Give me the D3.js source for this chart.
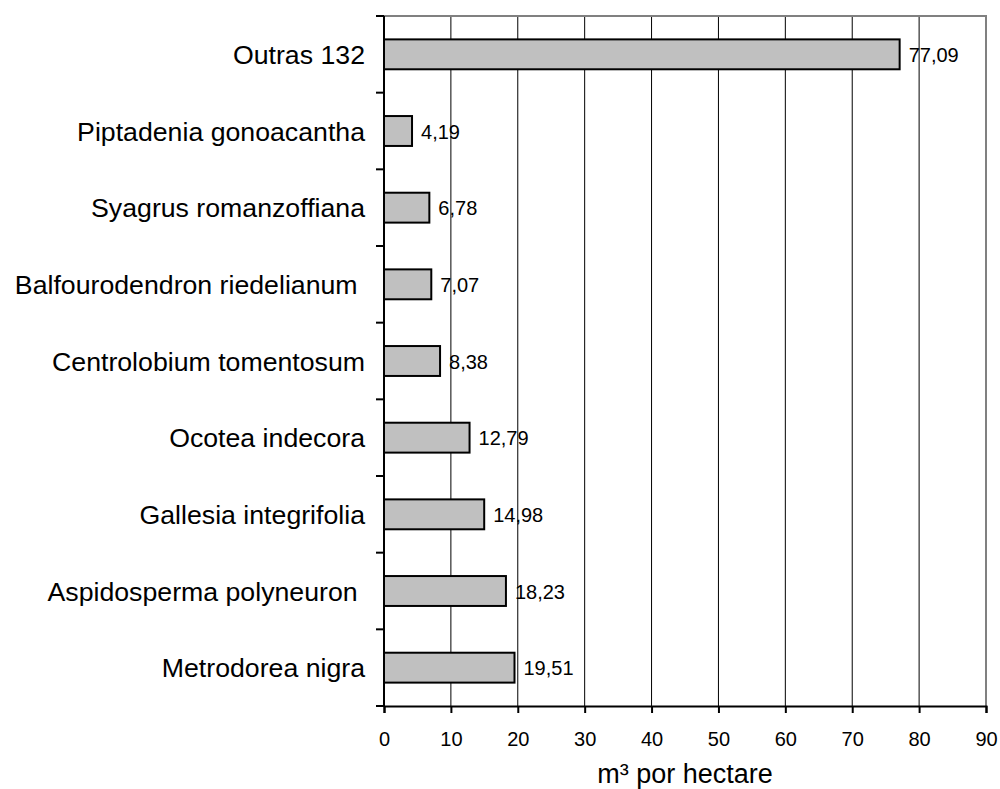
<!DOCTYPE html>
<html>
<head>
<meta charset="utf-8">
<script src="https://cdn.jsdelivr.net/npm/d3@7"></script>
<style>
  html, body { margin: 0; padding: 0; background: #fff; }
  svg { display: block; font-family: "Liberation Sans", Arial, sans-serif; }
  text { white-space: pre; }
</style>
</head>
<body>
<svg id="chart" width="1000" height="789"></svg>
<script>
// Species (top to bottom) and volume in m³ per hectare
const species = [
  "Outras 132",
  "Piptadenia gonoacantha",
  "Syagrus romanzoffiana",
  "Balfourodendron riedelianum ",
  "Centrolobium tomentosum",
  "Ocotea indecora",
  "Gallesia integrifolia",
  "Aspidosperma polyneuron ",
  "Metrodorea nigra"
];
const volume = [77.09, 4.19, 6.78, 7.07, 8.38, 12.79, 14.98, 18.23, 19.51];
const xTicks = [0, 10, 20, 30, 40, 50, 60, 70, 80, 90];
const axisTitle = "m³ por hectare";

const svg = d3.select("#chart");
const plotL = 384, plotR = 986, plotT = 16, plotB = 706;

const x = d3.scaleLinear().domain([0, 90]).range([plotL, plotR]);
const y = d3.scaleBand().domain(species).range([plotT, plotB]).paddingInner(0.61).paddingOuter(0.305);
const band = d3.scaleBand().domain(species).range([plotT, plotB]);

const fmt = v => d3.format(".2f")(v).replace(".", ",");

// vertical gridlines
svg.append("g").selectAll("line")
  .data(xTicks.filter(t => t > 0 && t < 90))
  .join("line")
  .attr("x1", d => x(d)).attr("x2", d => x(d))
  .attr("y1", plotT).attr("y2", plotB)
  .attr("stroke", "#000").attr("stroke-width", 1);

// plot frame (top and right)
svg.append("path")
  .attr("d", `M${plotL},${plotT}H${plotR}V${plotB}`)
  .attr("fill", "none").attr("stroke", "#808080").attr("stroke-width", 2);

// bars
svg.append("g").selectAll("rect")
  .data(species)
  .join("rect")
  .attr("x", x(0))
  .attr("y", d => y(d))
  .attr("width", (d, i) => x(volume[i]) - x(0))
  .attr("height", y.bandwidth())
  .attr("fill", "#c0c0c0")
  .attr("stroke", "#000")
  .attr("stroke-width", 2);

// value labels
svg.append("g").selectAll("text")
  .data(species)
  .join("text")
  .attr("x", (d, i) => x(volume[i]) + 9)
  .attr("y", d => band(d) + band.bandwidth() / 2 + 7.5)
  .attr("font-size", 20)
  .attr("fill", "#000")
  .text((d, i) => fmt(volume[i]));

// x axis
const xAxis = d3.axisBottom(x).tickValues(xTicks).tickSize(7).tickPadding(19).tickFormat(d3.format("d"));
const gx = svg.append("g").attr("transform", `translate(0,${plotB})`).call(xAxis);
gx.select(".domain").attr("stroke", "#000").attr("stroke-width", 2);
gx.selectAll(".tick line").attr("stroke", "#000").attr("stroke-width", 2);
gx.selectAll(".tick text").attr("font-size", 20).attr("fill", "#000")
  .attr("font-family", "Liberation Sans, Arial, sans-serif");

// y axis: tick marks at the category boundaries
const bounds = species.map(d => band(d)).concat([plotB]);
svg.append("g").selectAll("line")
  .data(bounds)
  .join("line")
  .attr("x1", plotL - 8).attr("x2", plotL)
  .attr("y1", d => d).attr("y2", d => d)
  .attr("stroke", "#000").attr("stroke-width", 2);
svg.append("line")
  .attr("x1", plotL).attr("x2", plotL)
  .attr("y1", plotT).attr("y2", plotB)
  .attr("stroke", "#000").attr("stroke-width", 2);

// category labels
svg.append("g").selectAll("text")
  .data(species)
  .join("text")
  .attr("x", 365)
  .attr("y", d => band(d) + band.bandwidth() / 2 + 9.5)
  .attr("text-anchor", "end")
  .attr("font-size", 26.7)
  .attr("fill", "#000")
  .text(d => d);

// axis title
svg.append("text")
  .attr("x", (plotL + plotR) / 2)
  .attr("y", 783)
  .attr("text-anchor", "middle")
  .attr("font-size", 27)
  .attr("fill", "#000")
  .text(axisTitle);
</script>
</body>
</html>
